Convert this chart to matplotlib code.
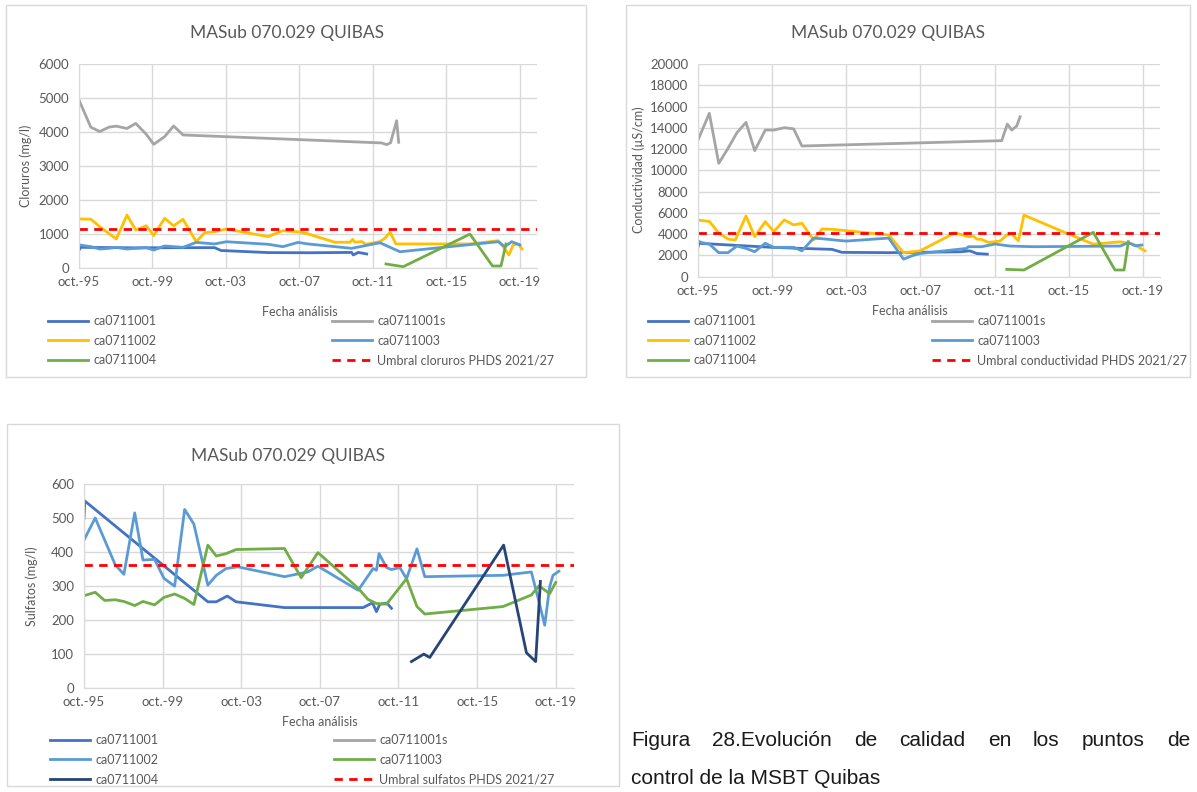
"""
MASub 070.029 QUIBAS: cloruros, conductividad y sulfatos (3 paneles estilo Excel)
"""
import matplotlib
matplotlib.use('Agg')
import matplotlib.pyplot as plt
from matplotlib.lines import Line2D
from matplotlib.patches import Rectangle

plt.rcParams['font.family'] = ['Lato', 'DejaVu Sans']

# ──────────────────────────────────────────────
# DATOS (fecha en año decimal)
# ──────────────────────────────────────────────
title = "MASub 070.029 QUIBAS"
tick_years = [1995.75, 1999.75, 2003.75, 2007.75, 2011.75, 2015.75, 2019.75]
tick_labels = ['oct.-95', 'oct.-99', 'oct.-03', 'oct.-07', 'oct.-11', 'oct.-15', 'oct.-19']

# Cloruros (mg/l)
cl_001_x = [1995.75, 1995.85, 1998.84, 2001.41, 2003.13, 2003.49, 2003.77, 2006.04, 2008.21,
            2010.59, 2010.68, 2010.95, 2011.41]
cl_001_y = [520, 600, 585, 590, 590, 505, 500, 445, 440, 450, 375, 450, 405]
cl_001s_x = [1995.75, 1996.39, 1996.88, 1997.38, 1997.78, 1998.36, 1998.84, 1999.41, 1999.82,
             2000.41, 2000.90, 2001.41, 2012.22, 2012.50, 2012.71, 2013.04, 2013.15]
cl_001s_y = [4940, 4140, 4010, 4140, 4170, 4100, 4250, 3930, 3635, 3860, 4175, 3910, 3675,
             3625, 3680, 4330, 3695]
cl_002_x = [1995.75, 1996.39, 1996.88, 1997.78, 1998.36, 1998.84, 1999.41, 1999.82, 2000.41,
            2000.90, 2001.41, 2002.13, 2002.59, 2003.13, 2003.77, 2006.04, 2006.85, 2007.67,
            2008.21, 2009.68, 2010.50, 2010.65, 2010.77, 2011.14, 2011.37, 2012.13, 2012.40,
            2012.68, 2013.00, 2017.03, 2018.57, 2018.84, 2019.15, 2019.38, 2019.65, 2019.87]
cl_002_y = [1435, 1430, 1210, 845, 1550, 1110, 1235, 945, 1455, 1235, 1425, 765, 1030, 1060,
            1140, 915, 1090, 1060, 995, 750, 750, 835, 750, 770, 690, 770, 865, 1045, 700, 700,
            795, 620, 375, 670, 700, 550]
cl_003_x = [1995.75, 1996.39, 1996.88, 1997.38, 1997.78, 1998.36, 1998.84, 1999.41, 1999.82,
            2000.41, 2000.90, 2001.41, 2002.13, 2003.13, 2003.77, 2006.04, 2006.85, 2007.67,
            2008.21, 2010.59, 2012.13, 2013.22, 2018.57, 2018.93, 2019.30, 2019.75]
cl_003_y = [670, 620, 550, 570, 600, 550, 570, 590, 520, 640, 620, 600, 745, 700, 765, 690,
            620, 745, 700, 570, 735, 470, 765, 620, 765, 670]
cl_004_x = [2012.46, 2013.40, 2017.03, 2018.26, 2018.72, 2018.99]
cl_004_y = [110, 30, 990, 50, 50, 700]
cl_umbral = 1130

# Conductividad (µS/cm)
co_001_x = [1995.75, 1995.80, 1999.74, 2001.36, 2002.44, 2002.98, 2003.52, 2006.04, 2009.89,
            2010.43, 2010.79, 2011.36]
co_001_y = [2800, 3140, 2760, 2660, 2600, 2570, 2290, 2260, 2340, 2430, 2180, 2120]
co_001s_x = [1995.75, 1996.36, 1996.87, 1997.37, 1997.85, 1998.34, 1998.81, 1999.38, 1999.84,
             2000.41, 2000.91, 2001.36, 2012.14, 2012.44, 2012.68, 2012.95, 2013.13]
co_001s_y = [12850, 15360, 10660, 12070, 13540, 14510, 11850, 13790, 13790, 14010, 13900,
             12290, 12790, 14350, 13790, 14170, 15040]
co_002_x = [1995.75, 1996.36, 1996.87, 1997.37, 1997.76, 1998.34, 1998.81, 1999.38, 1999.84,
            2000.41, 2000.91, 2001.36, 2001.99, 2002.44, 2002.98, 2003.74, 2006.04, 2006.84,
            2007.73, 2009.62, 2010.34, 2010.61, 2010.79, 2011.06, 2011.42, 2012.05, 2012.41,
            2012.68, 2013.04, 2013.34, 2015.46, 2017.08, 2018.53, 2019.24, 2019.87]
co_002_y = [5320, 5200, 4100, 3540, 3450, 5710, 3760, 5180, 4240, 5340, 4870, 5020, 3450,
            4490, 4460, 4330, 3920, 2260, 2430, 4130, 3760, 3820, 3540, 3500, 3220, 3350, 3920,
            4010, 3380, 5790, 4220, 3060, 3280, 3060, 2430]
co_003_x = [1995.75, 1995.97, 1996.36, 1996.87, 1997.37, 1997.85, 1998.34, 1998.81, 1999.38,
            1999.84, 2000.41, 2000.91, 2001.36, 2001.99, 2002.44, 2003.74, 2006.04, 2006.84,
            2007.29, 2007.73, 2010.25, 2010.34, 2011.06, 2011.78, 2012.59, 2013.85, 2018.53,
            2018.97, 2019.34, 2019.70]
co_003_y = [3350, 3200, 3070, 2260, 2260, 2880, 2660, 2350, 3140, 2760, 2760, 2760, 2430,
            3630, 3570, 3350, 3630, 1650, 1960, 2180, 2660, 2820, 2820, 3070, 2880, 2820, 2880,
            3200, 2910, 2980]
co_004_x = [2012.41, 2013.34, 2017.08, 2018.25, 2018.74, 2018.97]
co_004_y = [690, 630, 4170, 630, 630, 3290]
co_umbral = 4130

# Sulfatos (mg/l)
su_001_x = [1995.75, 1995.79, 2002.05, 2002.48, 2003.04, 2003.49, 2005.95, 2009.95, 2010.43,
            2010.63, 2010.80, 2011.17, 2011.39]
su_001_y = [500, 550, 253, 253, 270, 253, 236, 236, 250, 224, 246, 249, 234]
su_002_x = [1995.75, 1996.32, 1997.34, 1997.78, 1998.33, 1998.75, 1999.34, 1999.82, 2000.36,
            2000.87, 2001.34, 2002.05, 2002.48, 2002.98, 2003.58, 2005.95, 2007.14, 2007.65,
            2009.70, 2010.46, 2010.63, 2010.76, 2011.14, 2011.39, 2011.82, 2012.16, 2012.69,
            2013.09, 2017.07, 2018.51, 2018.90, 2019.19, 2019.44, 2019.61, 2019.91]
su_002_y = [435, 500, 362, 334, 515, 376, 378, 322, 299, 525, 482, 302, 331, 351, 356, 327,
            341, 358, 287, 351, 346, 395, 354, 348, 354, 321, 409, 327, 331, 341, 253, 184, 297,
            331, 343]
su_003_x = [1995.75, 1996.32, 1996.80, 1997.34, 1997.78, 1998.33, 1998.75, 1999.34, 1999.82,
            2000.36, 2000.87, 2001.34, 2002.05, 2002.48, 2002.98, 2003.49, 2005.95, 2006.80,
            2007.65, 2009.70, 2010.20, 2010.63, 2011.14, 2012.16, 2012.69, 2013.09, 2017.07,
            2018.51, 2018.90, 2019.44, 2019.75]
su_003_y = [271, 281, 257, 259, 254, 242, 254, 244, 266, 276, 263, 245, 420, 388, 395, 407,
            410, 324, 398, 293, 260, 248, 246, 321, 239, 217, 239, 273, 300, 277, 310]
su_004_x = [2012.41, 2013.04, 2013.34, 2017.10, 2018.26, 2018.73, 2018.97]
su_004_y = [77, 99, 89, 420, 103, 77, 313]
su_umbral = 360

caption_1 = 'Figura 28.Evolución de calidad en los puntos de'
caption_2 = 'control de la MSBT Quibas'

# ──────────────────────────────────────────────
# ESTILO
# ──────────────────────────────────────────────
C_BLUE = '#4472C4'
C_GRAY = '#A5A5A5'
C_YEL = '#FFC000'
C_LBLUE = '#5B9BD5'
C_GREEN = '#70AD47'
C_NAVY = '#264478'
C_RED = '#FF0000'
GRID = '#D9D9D9'
TXT = '#595959'
LW = 2.0
DASH = (0, (3, 2.3))
FS_TICK = 9.5
FS_LEG = 9

W, H = 1197, 792
fig = plt.figure(figsize=(W / 100, H / 100), dpi=100, facecolor='white')


def fx(px):
    return px / W


def fy(py):
    return 1 - py / H


def add_ax(left, top, right, bottom):
    return fig.add_axes([fx(left), fy(bottom), (right - left) / W, (bottom - top) / H])


def border(left, top, right, bottom):
    fig.patches.append(Rectangle((fx(left), fy(bottom)), (right - left) / W, (bottom - top) / H,
                                 transform=fig.transFigure, fill=False,
                                 edgecolor=GRID, lw=1.0))


def style(ax, ymax, ystep):
    ax.set_xlim(1995.75, 2020.68)
    ax.set_ylim(0, ymax)
    ax.set_yticks(range(0, ymax + 1, ystep))
    ax.set_xticks(tick_years)
    ax.set_xticklabels(tick_labels)
    ax.grid(True, color=GRID, lw=1.0)
    ax.set_axisbelow(True)
    for s in ['top', 'right']:
        ax.spines[s].set_visible(False)
    for s in ['left', 'bottom']:
        ax.spines[s].set_color(GRID)
    ax.tick_params(length=0, labelsize=FS_TICK, colors=TXT)
    ax.tick_params(axis='x', pad=6)
    ax.tick_params(axis='y', pad=7)


def legend(handles, labels, x, y):
    # orden columna a columna para que queden 2 por fila
    order = [0, 2, 4, 1, 3, 5]
    fig.legend([handles[i] for i in order], [labels[i] for i in order],
               loc='upper left', bbox_to_anchor=(fx(x), fy(y)), ncol=2, frameon=False,
               fontsize=FS_LEG, labelcolor=TXT, handlelength=3.2, handletextpad=0.4,
               columnspacing=14.1, labelspacing=0.62, borderpad=0, borderaxespad=0)


def h(color, dashed=False):
    return Line2D([], [], color=color, lw=LW, ls=DASH if dashed else '-')


# ──────────────────────────────────────────────
# PANEL 1: CLORUROS
# ──────────────────────────────────────────────
border(6, 5, 586, 377)
ax1 = add_ax(79, 64, 537, 267.7)
style(ax1, 6000, 1000)
ax1.plot(cl_001_x, cl_001_y, color=C_BLUE, lw=LW)
ax1.plot(cl_001s_x, cl_001s_y, color=C_GRAY, lw=LW)
ax1.plot(cl_002_x, cl_002_y, color=C_YEL, lw=LW)
ax1.plot(cl_003_x, cl_003_y, color=C_LBLUE, lw=LW)
ax1.plot(cl_004_x, cl_004_y, color=C_GREEN, lw=LW)
ax1.axhline(cl_umbral, color=C_RED, lw=LW, ls=DASH)
fig.text(fx(287), fy(33), title, fontsize=12.5, color=TXT, ha='center', va='center')
fig.text(fx(26), fy(166), 'Cloruros (mg/l)', fontsize=9, color=TXT, rotation=90,
         ha='center', va='center')
fig.text(fx(300), fy(312), 'Fecha análisis', fontsize=9, color=TXT, ha='center', va='center')
legend([h(C_BLUE), h(C_GRAY), h(C_YEL), h(C_LBLUE), h(C_GREEN), h(C_RED, True)],
       ['ca0711001', 'ca0711001s', 'ca0711002', 'ca0711003', 'ca0711004',
        'Umbral cloruros PHDS 2021/27'], 48, 315)

# ──────────────────────────────────────────────
# PANEL 2: CONDUCTIVIDAD
# ──────────────────────────────────────────────
border(626, 5, 1190, 377)
ax2 = add_ax(698, 64, 1160, 276.7)
style(ax2, 20000, 2000)
ax2.plot(co_001_x, co_001_y, color=C_BLUE, lw=LW)
ax2.plot(co_001s_x, co_001s_y, color=C_GRAY, lw=LW)
ax2.plot(co_002_x, co_002_y, color=C_YEL, lw=LW)
ax2.plot(co_003_x, co_003_y, color=C_LBLUE, lw=LW)
ax2.plot(co_004_x, co_004_y, color=C_GREEN, lw=LW)
ax2.axhline(co_umbral, color=C_RED, lw=LW, ls=DASH)
fig.text(fx(888), fy(33), title, fontsize=12.5, color=TXT, ha='center', va='center')
fig.text(fx(639), fy(170), 'Conductividad (µS/cm)', fontsize=9, color=TXT, rotation=90,
         ha='center', va='center')
fig.text(fx(910), fy(311), 'Fecha análisis', fontsize=9, color=TXT, ha='center', va='center')
legend([h(C_BLUE), h(C_GRAY), h(C_YEL), h(C_LBLUE), h(C_GREEN), h(C_RED, True)],
       ['ca0711001', 'ca0711001s', 'ca0711002', 'ca0711003', 'ca0711004',
        'Umbral conductividad PHDS 2021/27'], 648, 315)

# ──────────────────────────────────────────────
# PANEL 3: SULFATOS
# ──────────────────────────────────────────────
border(7, 424, 619, 786)
ax3 = add_ax(84, 484, 574, 687.7)
style(ax3, 600, 100)
ax3.plot(su_001_x, su_001_y, color=C_BLUE, lw=LW)
ax3.plot(su_002_x, su_002_y, color=C_LBLUE, lw=LW)
ax3.plot(su_003_x, su_003_y, color=C_GREEN, lw=LW)
ax3.plot(su_004_x, su_004_y, color=C_NAVY, lw=LW)
ax3.axhline(su_umbral, color=C_RED, lw=LW, ls=DASH)
fig.text(fx(288), fy(456), title, fontsize=12.5, color=TXT, ha='center', va='center')
fig.text(fx(32), fy(586), 'Sulfatos (mg/l)', fontsize=9, color=TXT, rotation=90,
         ha='center', va='center')
fig.text(fx(320), fy(722), 'Fecha análisis', fontsize=9, color=TXT, ha='center', va='center')
legend([h(C_BLUE), h(C_GRAY), h(C_LBLUE), h(C_GREEN), h(C_NAVY), h(C_RED, True)],
       ['ca0711001', 'ca0711001s', 'ca0711002', 'ca0711003', 'ca0711004',
        'Umbral sulfatos PHDS 2021/27'], 50, 734)

# ──────────────────────────────────────────────
# PIE DE FIGURA (primera línea justificada)
# ──────────────────────────────────────────────
cap_kw = dict(fontsize=15, family='Liberation Sans', color='#1a1a1a', va='center')
renderer = fig.canvas.get_renderer()
words = caption_1.split(' ')
widths = []
for wd in words:
    t = fig.text(0, 0, wd, **cap_kw)
    widths.append(t.get_window_extent(renderer).width)
    t.remove()
x_left, x_right = 631, 1190
gap = (x_right - x_left - sum(widths)) / (len(words) - 1)
xpos = x_left
for wd, wpx in zip(words, widths):
    fig.text(fx(xpos), fy(741), wd, ha='left', **cap_kw)
    xpos += wpx + gap
fig.text(fx(631), fy(779), caption_2, ha='left', **cap_kw)

fig.savefig('out.png', dpi=100, facecolor='white')
plt.close()
